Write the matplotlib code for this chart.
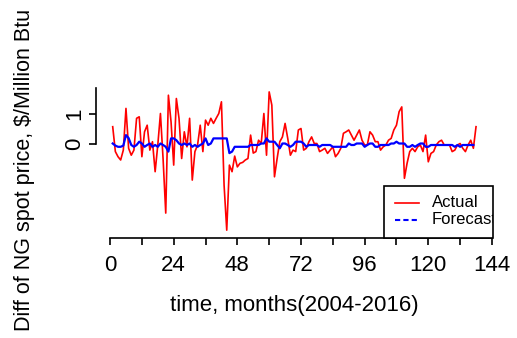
import numpy as np
import matplotlib.pyplot as plt
from matplotlib.patches import Rectangle

plt.rcParams['font.family'] = ['Liberation Sans', 'DejaVu Sans']

# monthly differences of NG spot price
actual = [0.58, -0.25, -0.42, -0.53, -0.2, 1.19, -0.14, -0.37, -0.2, 0.86,
          0.91, -0.42, 0.41, 0.63, -0.2, 0.08, -0.92, -0.03, 1.02, -0.5,
          -2.3, 1.63, 0.74, -0.7, 1.52, 0.86, -0.48, 0.41, -0.09, 0.86,
          -1.2, -0.25, -0.03, 0.63, -0.25, 0.8, 0.63, 0.86, 0.69, 0.86,
          1.02, 1.41, -1.37, -2.87, -0.7, -0.92, -0.4, -0.76, -0.64, -0.61,
          -0.53, -0.48, 0.3, -0.3, -0.25, 0.13, 0.02, 1.02, -0.37, 1.74,
          1.3, -1.09, -0.48, 0.08, 0.24, 0.69, 0.19, -0.37, -0.2, -0.25,
          0.47, 0.52, -0.2, -0.14, 0.08, 0.24, 0.02, 0.02, -0.25, -0.2,
          -0.14, -0.31, -0.2, -0.09, -0.42, -0.31, -0.14, 0.36, 0.41, 0.47,
          0.3, 0.13, 0.3, 0.47, 0.13, -0.03, -0.03, 0.41, 0.3, 0.08,
          0.08, -0.2, -0.09, -0.03, 0.13, 0.19, 0.47, 0.63, 1.08, 1.24,
          -1.14, -0.64, -0.25, -0.14, -0.25, -0.09, -0.03, -0.25, 0.3, -0.59,
          -0.31, -0.25, -0.03, 0.08, 0.13, -0.03, -0.03, -0.03, -0.25, -0.2,
          -0.03, 0.02, -0.14, -0.25, -0.03, 0.13, -0.14, 0.58]

forecast = [0.02, -0.05, -0.09, -0.09, -0.05, 0.3, 0.2, -0.03, -0.09, -0.03,
            0.08, 0.02, -0.09, -0.03, 0.02, -0.09, -0.03, -0.09, 0.02, -0.03,
            -0.09, -0.25, 0.19, 0.19, 0.13, 0.02, -0.03, 0.02, -0.03, 0.02,
            -0.09, -0.03, -0.09, -0.03, 0.02, 0.19, -0.03, 0.02, 0.19, 0.19,
            0.19, 0.19, 0.19, 0.19, -0.3, -0.25, -0.09, -0.09, -0.09, -0.09,
            -0.09, -0.09, -0.03, -0.03, -0.03, -0.03, 0.02, 0.02, 0.19, 0.08,
            0.08, 0.08, -0.03, -0.14, 0.02, 0.02, -0.03, -0.09, -0.03, 0.08,
            0.08, 0.08, 0.02, -0.09, -0.03, -0.03, -0.03, -0.03, -0.09, -0.03,
            -0.03, -0.03, -0.03, -0.09, -0.09, -0.09, -0.09, -0.09, -0.09, 0.02,
            -0.03, -0.03, 0.02, 0.02, 0.02, -0.09, -0.03, 0.02, 0.02, -0.09,
            -0.09, -0.03, -0.03, -0.03, -0.03, 0.02, 0.02, 0.08, 0.02, 0.02,
            0.02, -0.09, -0.09, -0.03, -0.09, -0.03, 0.02, 0.02, -0.09, -0.09,
            -0.03, -0.03, -0.03, -0.03, -0.03, -0.03, -0.03, -0.03, -0.03, -0.09,
            -0.03, -0.09, -0.03, -0.03, -0.03, -0.03, -0.03]

months_actual = np.arange(1, len(actual) + 1)
months_forecast = np.arange(1, len(forecast) + 1)

x_ticks = np.arange(0, 145, 12)
x_tick_labels = [str(t) if t % 24 == 0 else '' for t in x_ticks]
y_ticks = [0, 1]
y_tick_labels = ['0', '1']

fig = plt.figure(figsize=(5.17, 3.38), dpi=100)
ax = fig.add_axes([96 / 517, 1 - 238 / 338, 397 / 517, 153 / 338])

ax.plot(months_actual, actual, color='red', lw=1.2)
ax.plot(months_forecast, forecast, color='blue', lw=1.6)

ax.set_xlim(-5.3, 144.4)
ax.set_ylim(-3.13, 1.97)

# R-style axes: no box, axis lines only over the tick range
for side in ['top', 'right']:
    ax.spines[side].set_visible(False)
ax.spines['bottom'].set_bounds(0, 144)
ax.spines['left'].set_bounds(0, 1.87)
for side in ['bottom', 'left']:
    ax.spines[side].set_linewidth(1.2)

ax.set_xticks(x_ticks)
ax.set_xticklabels(x_tick_labels)
ax.set_yticks(y_ticks)
ax.set_yticklabels(y_tick_labels, rotation=90, va='center')
ax.tick_params(axis='both', direction='out', length=5, width=1.2, labelsize=16)
ax.tick_params(axis='x', pad=7)
ax.tick_params(axis='y', pad=3)

ax.set_xlabel('time, months(2004-2016)', fontsize=16)
ax.xaxis.set_label_coords(0.5, -0.44)
ax.xaxis.label.set_va('center')
ax.set_ylabel('Diff of NG spot price, $/Million Btu', fontsize=15.5)
ax.yaxis.set_label_coords(-0.181, 0.444)
ax.yaxis.label.set_va('center')

# legend box drawn like R's legend("bottomright"), text clipped at plot edge
ax.add_patch(Rectangle((0.7254, 0), 0.2746, 0.34, transform=ax.transAxes,
                       facecolor='white', edgecolor='black', lw=1.2,
                       clip_on=False, zorder=3))
ax.plot([0.753, 0.814], [0.229, 0.229], transform=ax.transAxes,
        color='red', lw=1.2, zorder=4)
ax.plot([0.753, 0.814], [0.118, 0.118], transform=ax.transAxes,
        color='blue', lw=1.5, dashes=(2.5, 1.5), zorder=4)
ax.text(0.846, 0.229, 'Actual', transform=ax.transAxes, fontsize=12,
        va='center', clip_on=True, zorder=4)
ax.text(0.846, 0.118, 'Forecast', transform=ax.transAxes, fontsize=12,
        va='center', clip_on=True, zorder=4)

fig.savefig('out.png', dpi=100)
